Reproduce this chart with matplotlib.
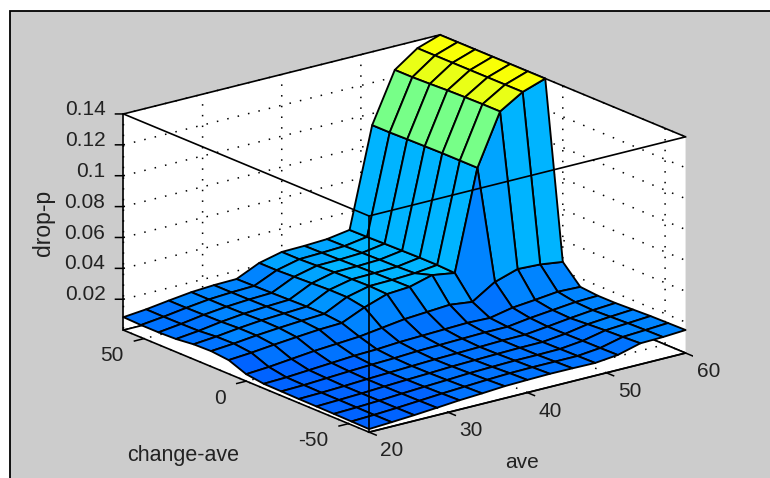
import numpy as np
from matplotlib import pyplot as plt
from matplotlib.patches import Rectangle
from matplotlib import colors
from mpl_toolkits.mplot3d import proj3d

plt.rcParams['font.family'] = ['Liberation Sans', 'DejaVu Sans']
plt.rcParams['grid.color'] = 'black'
plt.rcParams['grid.linestyle'] = (0, (1, 6))
plt.rcParams['grid.linewidth'] = 1.1

# datos (15 x 15, filas = change-ave, columnas = ave)
ave = [20 + 40 / 14 * k for k in range(15)]
change_ave = [-60 + 120 / 14 * k for k in range(15)]
ave_ticks = [20, 30, 40, 50, 60]
ave_labels = ['20', '30', '40', '50', '60']
change_ticks = [-50, 0, 50]
change_labels = ['-50', '0', '50']
drop_ticks = [0.02, 0.04, 0.06, 0.08, 0.1, 0.12, 0.14]
drop_labels = ['0.02', '0.04', '0.06', '0.08', '0.1', '0.12', '0.14']
drop_p = [
    [.0020, .0028, .0037, .0048, .0060, .0068, .0078, .0082, .0085, .0084, .0082, .0097, .0136, .0140, .0149],
    [.0022, .0028, .0036, .0046, .0056, .0064, .0072, .0078, .0080, .0080, .0080, .0095, .0130, .0138, .0147],
    [.0024, .0029, .0036, .0045, .0053, .0060, .0068, .0072, .0076, .0076, .0078, .0094, .0125, .0135, .0145],
    [.0025, .0030, .0036, .0044, .0051, .0057, .0064, .0068, .0072, .0075, .0076, .0092, .0118, .0130, .0140],
    [.0026, .0030, .0036, .0044, .0050, .0056, .0062, .0066, .0070, .0075, .0076, .0092, .0110, .0125, .0135],
    [.0028, .0032, .0040, .0048, .0055, .0060, .0068, .0072, .0076, .0080, .0080, .0100, .0115, .0130, .0135],
    [.0030, .0035, .0045, .0055, .0065, .0070, .0080, .0085, .0090, .0095, .0090, .0120, .0134, .0150, .0145],
    [.0045, .0055, .0070, .0085, .0095, .0105, .0125, .0145, .0155, .0165, .0147, .0240, .0287, .0280, .0260],
    [.0089, .0100, .0115, .0128, .0140, .0146, .0210, .0260, .0270, .0310, .0287, .0932, .1260, .1350, .1400],
    [.0100, .0112, .0128, .0140, .0150, .0158, .0230, .0265, .0268, .0275, .0292, .0932, .1260, .1350, .1400],
    [.0097, .0110, .0128, .0142, .0150, .0158, .0230, .0262, .0265, .0270, .0292, .0932, .1258, .1350, .1400],
    [.0084, .0100, .0122, .0138, .0148, .0155, .0225, .0260, .0262, .0268, .0290, .0930, .1255, .1350, .1400],
    [.0080, .0098, .0120, .0136, .0146, .0152, .0220, .0255, .0258, .0265, .0288, .0928, .1250, .1350, .1400],
    [.0080, .0097, .0118, .0136, .0145, .0150, .0215, .0250, .0255, .0262, .0285, .0925, .1246, .1350, .1400],
    [.0084, .0098, .0118, .0136, .0145, .0148, .0215, .0250, .0253, .0260, .0283, .0925, .1246, .1350, .1400],
]

W, H = 770, 478
fig = plt.figure(figsize=(W / 100, H / 100), dpi=100, facecolor='white')
# fondo gris: borde arriba y a la izquierda, a la derecha sale de la imagen
fig.add_artist(Rectangle((10 / W, -0.1), 780 / W, 1.1 - 11.5 / H, transform=fig.transFigure,
                         facecolor='#cccccc', edgecolor='black', linewidth=1.3, zorder=-1))

ax = fig.add_axes([100 / W, -60 / H, 593 / W, 593 / H], projection='3d', computed_zorder=False)
ax.patch.set_alpha(0)
ax.set_proj_type('ortho')
ax.view_init(elev=18.8, azim=-127.8)
ax.set_box_aspect((1, 1, 0.57))
ax.set_xlim(20, 60, view_margin=0)
ax.set_ylim(-60, 60, view_margin=0)
ax.set_zlim(0, 0.14, view_margin=0)

# jet como en matlab, 64 colores
jet_m = colors.LinearSegmentedColormap.from_list(
    'jet_m', [(0, (0, 0, .5)), (.125, (0, 0, 1)), (.375, (0, 1, 1)), (.625, (1, 1, 0)),
              (.875, (1, 0, 0)), (1, (.5, 0, 0))], N=64)

X, Y = np.meshgrid(ave, change_ave)
Z = np.array(drop_p)
norma = colors.Normalize(-0.0733, 0.26)
ax.plot_surface(X, Y, Z, rstride=1, cstride=1, facecolors=jet_m(norma(Z)),
                edgecolor='black', linewidth=1.35, shade=False, zorder=2)

# aristas delanteras de la caja, por encima de la superficie
ax.plot([20, 20], [-60, -60], [0, 0.14], color='black', lw=1.2, zorder=3)
ax.plot([20, 60], [-60, -60], [0.14, 0.14], color='black', lw=1.2, zorder=3)
ax.plot([20, 20], [-60, 60], [0.14, 0.14], color='black', lw=1.2, zorder=3)

for eje in (ax.xaxis, ax.yaxis, ax.zaxis):
    eje.set_pane_color((1, 1, 1, 1))
    eje.pane.set_edgecolor('black')
    eje.pane.set_linewidth(1.2)
    eje.line.set_color('black')
    eje.line.set_linewidth(1.2)
    eje._axinfo['tick']['inward_factor'] = 0
    eje._axinfo['tick']['outward_factor'] = 0

ax.set_xticks(ave_ticks)
ax.set_yticks(change_ticks)
ax.set_zticks(drop_ticks)
ax.set_xticklabels([])
ax.set_yticklabels([])
ax.set_zticklabels([])

gris = '#222222'
M = ax.get_proj()

def texto(x, y, z, s, ha):
    # texto 2D en el punto proyectado de la caja
    px, py, _ = proj3d.proj_transform(x, y, z, M)
    ax.text2D(px, py, s, transform=ax.transData, ha=ha, va='center', fontsize=15, color=gris, clip_on=False)

# marcas y textos de los ejes, hacia fuera de la caja
for t, et in zip(ave_ticks, ave_labels):
    ax.plot([t, t], [-60, -63.5], [0, 0], color='black', lw=1.1, zorder=1)
    texto(t - 1.69, -77.8, 0, et, 'center')
for t, et in zip(change_ticks, change_labels):
    ax.plot([20, 18.8], [t, t], [0, 0], color='black', lw=1.1, zorder=1)
    texto(15.19, t - 8.83, 0, et, 'right')
for t, et in zip(drop_ticks, drop_labels):
    ax.plot([20, 19.37], [60, 61.47], [t, t], color='black', lw=1.1, zorder=1)
    texto(18.575, 63.31, t + 0.0029, et, 'right')

fig.text(43 / W, 1 - 223 / H, 'drop-p', rotation=90, ha='center', va='center', fontsize=16.5, color=gris)
fig.text(183 / W, 1 - 456 / H, 'change-ave', ha='center', va='center', fontsize=15.5, color=gris)
fig.text(522 / W, 1 - 463 / H, 'ave', ha='center', va='center', fontsize=15, color=gris)

fig.savefig('out.png', dpi=100, facecolor=fig.get_facecolor())
